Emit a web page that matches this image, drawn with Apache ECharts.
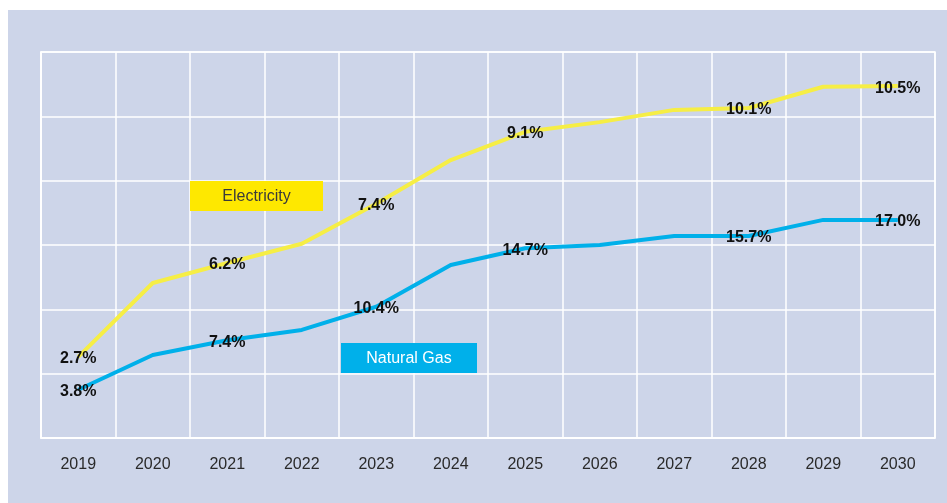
<!DOCTYPE html>
<html>
<head>
<meta charset="utf-8">
<script src="https://cdn.jsdelivr.net/npm/echarts@6/dist/echarts.min.js"></script>
<style>
  html, body { margin: 0; padding: 0; background: #fff; }
  #bg { position: absolute; left: 8px; top: 10px; width: 939px; height: 493px; background: #cdd5e9; }
  #chart { position: absolute; left: 0; top: 0; width: 947px; height: 503px; }
</style>
</head>
<body>
<div id="bg"></div>
<div id="chart"></div>
<script>
// years on the x axis
const years = ['2019', '2020', '2021', '2022', '2023', '2024', '2025', '2026', '2027', '2028', '2029', '2030']

// line heights in grid rows (the original has no y scale)
const electricity = [1.26, 2.41, 2.72, 3.02, 3.64, 4.32, 4.76, 4.91, 5.10, 5.13, 5.46, 5.47]
const naturalGas = [0.75, 1.29, 1.52, 1.68, 2.04, 2.69, 2.95, 3.00, 3.14, 3.14, 3.39, 3.39]

// printed point labels (null = no label)
const electricityLabels = ['2.7%', null, '6.2%', null, '7.4%', null, '9.1%', null, null, '10.1%', null, '10.5%']
const naturalGasLabels = ['3.8%', null, '7.4%', null, '10.4%', null, '14.7%', null, null, '15.7%', null, '17.0%']

const FONT = 'Liberation Sans, Arial, sans-serif'
const chart = echarts.init(document.getElementById('chart'))

function buildData(values, labels) {
  return values.map((v, i) => ({
    value: v,
    label: { show: labels[i] !== null, formatter: labels[i] || '' }
  }))
}

function createSerie(name, color, values, labels) {
  return {
    name: name,
    type: 'line',
    data: buildData(values, labels),
    symbol: 'circle',
    symbolSize: 1,
    itemStyle: { color: color },
    lineStyle: { color: color, width: 4 },
    label: {
      position: 'inside',
      offset: [0, 2],
      color: '#111',
      fontFamily: FONT,
      fontWeight: 'bold',
      fontSize: 16
    },
    animation: false
  }
}

// coloured name box drawn on the plot
function nameBox(text, x, y, w, h, fill, textColor) {
  return {
    type: 'group',
    x: x, y: y,
    children: [
      { type: 'rect', z: 100, shape: { x: 0, y: 0, width: w, height: h }, style: { fill: fill } },
      {
        type: 'text', z: 101, x: w / 2, y: h / 2 + 1,
        style: { text: text, fill: textColor, fontSize: 16, fontFamily: FONT, align: 'center', verticalAlign: 'middle' }
      }
    ]
  }
}

chart.setOption({
  backgroundColor: 'transparent',
  grid: { left: 41, right: 12, top: 52, bottom: 65, show: true, borderColor: '#fff', borderWidth: 1.5 },
  xAxis: {
    type: 'category',
    data: years,
    boundaryGap: true,
    axisLine: { lineStyle: { color: '#fff', width: 1.5 } },
    axisTick: { show: false },
    splitLine: { show: true, lineStyle: { color: '#fff', width: 1.5 } },
    axisLabel: { color: '#2a2a2a', fontSize: 16, margin: 19, fontFamily: FONT }
  },
  yAxis: {
    type: 'value',
    min: 0,
    max: 6,
    interval: 1,
    axisLine: { show: true, lineStyle: { color: '#fff', width: 1.5 } },
    axisTick: { show: false },
    axisLabel: { show: false },
    splitLine: { lineStyle: { color: '#fff', width: 1.5 } }
  },
  graphic: [
    nameBox('Electricity', 190, 181, 133, 30, '#fee800', '#3a3a3a'),
    nameBox('Natural Gas', 341, 343, 136, 30, '#00b0ea', '#ffffff')
  ],
  series: [
    createSerie('Electricity', '#f6ee45', electricity, electricityLabels),
    createSerie('Natural Gas', '#00b0ea', naturalGas, naturalGasLabels)
  ]
})
</script>
</body>
</html>
